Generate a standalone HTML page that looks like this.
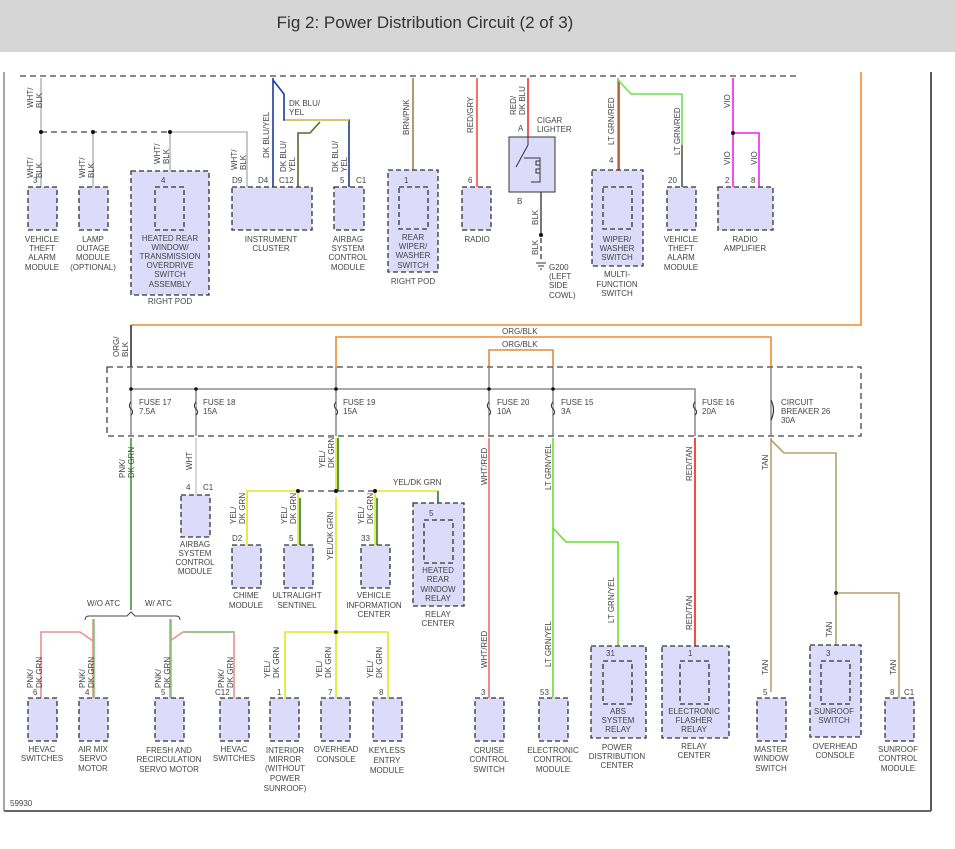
<!DOCTYPE html>
<html><head><meta charset="utf-8"><style>
body{margin:0;background:#fff;width:955px;height:849px;overflow:hidden}
svg{display:block}
text{font-family:"Liberation Sans",sans-serif;font-size:8px;fill:#444}
.m{text-anchor:middle}
.b{fill:#dcdcfa;stroke:#333;stroke-width:1.3;stroke-dasharray:5,3}
.w{fill:none;stroke-width:1.6}
.d{fill:none;stroke:#444;stroke-width:1.3;stroke-dasharray:6,4}
</style></head><body>
<svg width="955" height="849" viewBox="0 0 955 849">
<rect x="0" y="0" width="955" height="52" fill="#d6d6d6"/>
<text x="425" y="28" class="m" style="font-size:17px;fill:#333">Fig 2: Power Distribution Circuit (2 of 3)</text>
<line x1="4" y1="72" x2="4" y2="811" stroke="#888" stroke-width="1.5"/>
<line x1="931" y1="72" x2="931" y2="811" stroke="#222" stroke-width="1.5"/>
<line x1="4" y1="811" x2="931" y2="811" stroke="#666" stroke-width="2"/>
<text x="10" y="806">59930</text>

<!-- top dashed bus -->
<line x1="20" y1="76" x2="798" y2="76" class="d"/>
<!-- orange feed -->
<path class="w" stroke="#f08a30" d="M861 72 V325 H131"/>
<path class="w" stroke="#333" d="M131 325 V367"/>
<text transform="translate(119,357) rotate(-90)"><tspan x="0">ORG/</tspan><tspan x="0" dy="9">BLK</tspan></text>
<path class="w" stroke="#f08a30" d="M336 367 V337 H771 V367"/>
<path class="w" stroke="#e08a40" d="M489 367 V350 H553 V367"/>
<text x="502" y="334">ORG/BLK</text>
<text x="502" y="347">ORG/BLK</text>

<!-- TOP WIRES -->
<path class="w" stroke="#bbb" d="M41 78 V187 M93 132 V187 M170 132 V187 M170 132 H247 V187"/>
<line x1="41" y1="132" x2="170" y2="132" class="d"/>
<circle cx="41" cy="132" r="2" fill="#111"/><circle cx="93" cy="132" r="2" fill="#111"/><circle cx="170" cy="132" r="2" fill="#111"/>
<text transform="translate(33,108) rotate(-90)"><tspan x="0">WHT/</tspan><tspan x="0" dy="9">BLK</tspan></text>
<text transform="translate(33,178) rotate(-90)"><tspan x="0">WHT/</tspan><tspan x="0" dy="9">BLK</tspan></text>
<text transform="translate(85,178) rotate(-90)"><tspan x="0">WHT/</tspan><tspan x="0" dy="9">BLK</tspan></text>
<text transform="translate(160,164) rotate(-90)"><tspan x="0">WHT/</tspan><tspan x="0" dy="9">BLK</tspan></text>
<text transform="translate(237,170) rotate(-90)"><tspan x="0">WHT/</tspan><tspan x="0" dy="9">BLK</tspan></text>

<path class="w" stroke="#1a3a9a" d="M273 78 V187"/>
<path class="w" stroke="#1a3a9a" d="M273 80 L284 94 V120 H349 V187"/>
<path class="w" stroke="#e8d84a" stroke-width="0.8" fill="none" d="M285 120 H349"/>
<path class="w" stroke="#556b2f" d="M298 187 V133 H310 L320 122"/>
<text transform="translate(269,158) rotate(-90)">DK BLU/YEL</text>
<text x="289" y="106">DK BLU/</text><text x="289" y="115">YEL</text>
<text transform="translate(286,172) rotate(-90)"><tspan x="0">DK BLU/</tspan><tspan x="0" dy="9">YEL</tspan></text>
<text transform="translate(338,172) rotate(-90)"><tspan x="0">DK BLU/</tspan><tspan x="0" dy="9">YEL</tspan></text>

<path class="w" stroke="#a08050" d="M413 78 V187"/>
<text transform="translate(409,135) rotate(-90)">BRN/PNK</text>
<path class="w" stroke="#f05050" d="M477 78 V187"/>
<text transform="translate(473,133) rotate(-90)">RED/GRY</text>
<path class="w" stroke="#f03030" d="M528 78 V137"/>
<text transform="translate(516,115) rotate(-90)"><tspan x="0">RED/</tspan><tspan x="0" dy="9">DK BLU</tspan></text>
<text x="537" y="123">CIGAR</text><text x="537" y="132">LIGHTER</text>
<text x="518" y="131">A</text>
<rect x="509" y="137" width="46" height="55" fill="#dcdcfa" stroke="#333" stroke-width="1"/>
<path d="M516 167 L528 145 M528 137 V145 M524 158 H540 V182 H531" stroke="#333" fill="none" stroke-width="1"/>
<path d="M540 158 v3 h-4 v4 h4 v4 h-4 v4 h4" stroke="#333" fill="none"/>
<text x="517" y="204">B</text>
<path class="w" stroke="#555" d="M541 192 V235"/>
<path d="M541 238 V260" stroke="#555" stroke-dasharray="5,3" stroke-width="1.5"/>
<circle cx="541" cy="235" r="2" fill="#111"/>
<text transform="translate(538,225) rotate(-90)">BLK</text>
<text transform="translate(538,255) rotate(-90)">BLK</text>
<path d="M536 263 H546 M538 266 H544 M540 269 H542" stroke="#333"/>
<text x="549" y="270">G200</text><text x="549" y="279">(LEFT</text><text x="549" y="288">SIDE</text><text x="549" y="298">COWL)</text>

<path class="w" stroke="#5ad43a" d="M618 78 V187"/>
<path class="w" stroke="#c84030" stroke-width="0.8" d="M619 80 V187"/>
<path class="w" stroke="#6de34a" d="M618 80 L631 94 H682 V145"/>
<path class="w" stroke="#555" d="M682 145 V187"/>
<text transform="translate(614,145) rotate(-90)">LT GRN/RED</text>
<text transform="translate(680,155) rotate(-90)">LT GRN/RED</text>
<path class="w" stroke="#ee22ee" d="M733 78 V187 M733 133 H759 V187"/>
<circle cx="733" cy="133" r="2" fill="#111"/>
<text transform="translate(730,108) rotate(-90)">VIO</text>
<text transform="translate(730,165) rotate(-90)">VIO</text>
<text transform="translate(757,165) rotate(-90)">VIO</text>

<!-- top modules -->
<rect class="b" x="28" y="187" width="29" height="43"/>
<rect class="b" x="79" y="187" width="29" height="43"/>
<rect class="b" x="131" y="171" width="78" height="124"/>
<rect class="b" x="155" y="187" width="29" height="43"/>
<rect class="b" x="232" y="187" width="80" height="43"/>
<rect class="b" x="334" y="187" width="30" height="43"/>
<rect class="b" x="388" y="170" width="50" height="102"/>
<rect class="b" x="399" y="187" width="29" height="42"/>
<rect class="b" x="462" y="187" width="29" height="43"/>
<rect class="b" x="592" y="170" width="51" height="96"/>
<rect class="b" x="603" y="187" width="29" height="42"/>
<rect class="b" x="667" y="187" width="29" height="43"/>
<rect class="b" x="718" y="187" width="55" height="43"/>
<text x="33" y="183">3</text><text x="161" y="183">4</text><text x="232" y="183">D9</text><text x="258" y="183">D4</text><text x="279" y="183">C12</text>
<text x="340" y="183">5</text><text x="356" y="183">C1</text><text x="404" y="183">1</text><text x="468" y="183">6</text>
<text x="609" y="163">4</text><text x="668" y="183">20</text><text x="725" y="183">2</text><text x="751" y="183">8</text>
<g class="m">
<text x="42" y="242" class="m">VEHICLE</text><text x="42" y="251" class="m">THEFT</text><text x="42" y="260" class="m">ALARM</text><text x="42" y="270" class="m">MODULE</text>
<text x="93" y="242" class="m">LAMP</text><text x="93" y="251" class="m">OUTAGE</text><text x="93" y="260" class="m">MODULE</text><text x="93" y="270" class="m">(OPTIONAL)</text>
<text x="170" y="241" class="m">HEATED REAR</text><text x="170" y="250" class="m">WINDOW/</text><text x="170" y="259" class="m">TRANSMISSION</text><text x="170" y="268" class="m">OVERDRIVE</text><text x="170" y="277" class="m">SWITCH</text><text x="170" y="287" class="m">ASSEMBLY</text>
<text x="170" y="304" class="m">RIGHT POD</text>
<text x="271" y="242" class="m">INSTRUMENT</text><text x="271" y="251" class="m">CLUSTER</text>
<text x="348" y="242" class="m">AIRBAG</text><text x="348" y="251" class="m">SYSTEM</text><text x="348" y="260" class="m">CONTROL</text><text x="348" y="270" class="m">MODULE</text>
<text x="413" y="240" class="m">REAR</text><text x="413" y="249" class="m">WIPER/</text><text x="413" y="258" class="m">WASHER</text><text x="413" y="268" class="m">SWITCH</text>
<text x="413" y="284" class="m">RIGHT POD</text>
<text x="477" y="242" class="m">RADIO</text>
<text x="617" y="242" class="m">WIPER/</text><text x="617" y="251" class="m">WASHER</text><text x="617" y="260" class="m">SWITCH</text>
<text x="617" y="277" class="m">MULTI-</text><text x="617" y="287" class="m">FUNCTION</text><text x="617" y="296" class="m">SWITCH</text>
<text x="681" y="242" class="m">VEHICLE</text><text x="681" y="251" class="m">THEFT</text><text x="681" y="260" class="m">ALARM</text><text x="681" y="270" class="m">MODULE</text>
<text x="745" y="242" class="m">RADIO</text><text x="745" y="251" class="m">AMPLIFIER</text>
</g>

<!-- FUSE BOX -->
<rect x="107" y="367" width="754" height="69" fill="none" stroke="#444" stroke-width="1.3" stroke-dasharray="6,4"/>
<path stroke="#777" stroke-width="1.3" fill="none" d="M131 389 H695 V400 M131 367 V436 M196 389 V436 M336 367 V436 M489 367 V436 M553 367 V436 M695 400 V436 M771 367 V436"/>
<g fill="#fff" stroke="#333" stroke-width="1.2">
<path d="M131 402 q-3 4 0 7 q3 3 0 6"/><path d="M196 402 q-3 4 0 7 q3 3 0 6"/><path d="M336 402 q-3 4 0 7 q3 3 0 6"/>
<path d="M489 402 q-3 4 0 7 q3 3 0 6"/><path d="M553 402 q-3 4 0 7 q3 3 0 6"/><path d="M695 402 q-3 4 0 7 q3 3 0 6"/>
<path d="M771 400 q5 10 0 20" fill="none"/>
</g>
<g fill="#111"><circle cx="131" cy="389" r="1.8"/><circle cx="196" cy="389" r="1.8"/><circle cx="336" cy="389" r="1.8"/><circle cx="489" cy="389" r="1.8"/><circle cx="553" cy="389" r="1.8"/></g>
<text x="139" y="405">FUSE 17</text><text x="139" y="414">7.5A</text>
<text x="203" y="405">FUSE 18</text><text x="203" y="414">15A</text>
<text x="343" y="405">FUSE 19</text><text x="343" y="414">15A</text>
<text x="497" y="405">FUSE 20</text><text x="497" y="414">10A</text>
<text x="561" y="405">FUSE 15</text><text x="561" y="414">3A</text>
<text x="702" y="405">FUSE 16</text><text x="702" y="414">20A</text>
<text x="781" y="405">CIRCUIT</text><text x="781" y="414">BREAKER 26</text><text x="781" y="423">30A</text>

<!-- FUSE 17 -->
<path class="w" stroke="#3a9a3a" d="M131 438 V610"/>
<text transform="translate(125,478) rotate(-90)"><tspan x="0">PNK/</tspan><tspan x="0" dy="9">DK GRN</tspan></text>
<path d="M85 620 q0 -4 4 -4 H127 l4 -4 l4 4 H176 q4 0 4 4" fill="none" stroke="#444"/>
<text x="87" y="606">W/O ATC</text><text x="145" y="606">W/ ATC</text>
<path class="w" stroke="#e89090" d="M93 619 V698 M41 698 V632 H80 L93 641 M170 619 V698 M234 698 V632 H183 L170 641"/>
<path class="w" stroke="#7ac87a" stroke-width="0.7" d="M94 619 V698 M171 619 V698 M183 632 H234"/>
<!-- FUSE 18 -->
<path class="w" stroke="#ccc" d="M196 438 V495"/>
<text transform="translate(192,470) rotate(-90)">WHT</text>
<!-- FUSE 19 -->
<path class="w" stroke="#dde820" d="M336 438 V491 M336 497 V632 M247 545 V491 H298 M298 545 V491 M375 545 V491 M375 491 H438 M285 698 V632 H388 V698 M336 632 V698"/>
<path class="w" stroke="#2a7a2a" stroke-width="0.7" d="M338 438 V491 M300 498 V545 M377 498 V545 M438 491 V515"/>
<line x1="298" y1="491" x2="375" y2="491" class="d"/>
<g fill="#111"><circle cx="298" cy="491" r="2"/><circle cx="336" cy="491" r="2"/><circle cx="375" cy="491" r="2"/><circle cx="336" cy="632" r="2"/></g>
<text transform="translate(325,468) rotate(-90)"><tspan x="0">YEL/</tspan><tspan x="0" dy="9">DK GRN</tspan></text>
<text x="393" y="485">YEL/DK GRN</text>
<text transform="translate(236,524) rotate(-90)"><tspan x="0">YEL/</tspan><tspan x="0" dy="9">DK GRN</tspan></text>
<text transform="translate(287,524) rotate(-90)"><tspan x="0">YEL/</tspan><tspan x="0" dy="9">DK GRN</tspan></text>
<text transform="translate(364,524) rotate(-90)"><tspan x="0">YEL/</tspan><tspan x="0" dy="9">DK GRN</tspan></text>
<text transform="translate(333,560) rotate(-90)">YEL/DK GRN</text>
<text transform="translate(270,678) rotate(-90)"><tspan x="0">YEL/</tspan><tspan x="0" dy="9">DK GRN</tspan></text>
<text transform="translate(322,678) rotate(-90)"><tspan x="0">YEL/</tspan><tspan x="0" dy="9">DK GRN</tspan></text>
<text transform="translate(373,678) rotate(-90)"><tspan x="0">YEL/</tspan><tspan x="0" dy="9">DK GRN</tspan></text>
<!-- FUSE 20 -->
<path class="w" stroke="#f07070" d="M489 438 V698"/>
<text transform="translate(487,485) rotate(-90)">WHT/RED</text>
<text transform="translate(487,668) rotate(-90)">WHT/RED</text>
<!-- FUSE 15 -->
<path class="w" stroke="#66e030" d="M553 438 V698 M553 528 L566 542 H618 V657"/>
<text transform="translate(551,490) rotate(-90)">LT GRN/YEL</text>
<text transform="translate(551,667) rotate(-90)">LT GRN/YEL</text>
<text transform="translate(614,623) rotate(-90)">LT GRN/YEL</text>
<!-- FUSE 16 -->
<path class="w" stroke="#ee2020" d="M695 438 V657"/>
<text transform="translate(692,481) rotate(-90)">RED/TAN</text>
<text transform="translate(692,630) rotate(-90)">RED/TAN</text>
<!-- CB 26 -->
<path class="w" stroke="#b8a070" d="M771 438 V692 M771 440 L784 453 H836 V661 M836 593 H899 V698"/>
<circle cx="836" cy="593" r="2" fill="#111"/>
<text transform="translate(768,470) rotate(-90)">TAN</text>
<text transform="translate(768,675) rotate(-90)">TAN</text>
<text transform="translate(832,637) rotate(-90)">TAN</text>
<text transform="translate(896,675) rotate(-90)">TAN</text>

<!-- bottom / middle modules -->
<rect class="b" x="181" y="495" width="29" height="42"/>
<text x="186" y="490">4</text><text x="203" y="490">C1</text>
<rect class="b" x="232" y="545" width="29" height="43"/>
<rect class="b" x="284" y="545" width="29" height="43"/>
<rect class="b" x="361" y="545" width="29" height="43"/>
<rect class="b" x="413" y="503" width="51" height="103"/>
<rect class="b" x="424" y="520" width="29" height="43"/>
<text x="232" y="541">D2</text><text x="289" y="541">5</text><text x="361" y="541">33</text><text x="429" y="516">5</text>
<text x="195" y="547" class="m">AIRBAG</text><text x="195" y="556" class="m">SYSTEM</text><text x="195" y="565" class="m">CONTROL</text><text x="195" y="574" class="m">MODULE</text>
<text x="246" y="598" class="m">CHIME</text><text x="246" y="608" class="m">MODULE</text>
<text x="297" y="598" class="m">ULTRALIGHT</text><text x="297" y="608" class="m">SENTINEL</text>
<text x="374" y="598" class="m">VEHICLE</text><text x="374" y="608" class="m">INFORMATION</text><text x="374" y="617" class="m">CENTER</text>
<text x="438" y="573" class="m">HEATED</text><text x="438" y="582" class="m">REAR</text><text x="438" y="592" class="m">WINDOW</text><text x="438" y="601" class="m">RELAY</text>
<text x="438" y="617" class="m">RELAY</text><text x="438" y="626" class="m">CENTER</text>

<rect class="b" x="28" y="698" width="29" height="43"/>
<rect class="b" x="79" y="698" width="29" height="43"/>
<rect class="b" x="155" y="698" width="29" height="43"/>
<rect class="b" x="220" y="698" width="29" height="43"/>
<rect class="b" x="270" y="698" width="29" height="43"/>
<rect class="b" x="321" y="698" width="29" height="43"/>
<rect class="b" x="373" y="698" width="29" height="43"/>
<rect class="b" x="475" y="698" width="29" height="43"/>
<rect class="b" x="539" y="698" width="29" height="43"/>
<rect class="b" x="591" y="646" width="55" height="92"/>
<rect class="b" x="603" y="661" width="29" height="43"/>
<rect class="b" x="662" y="646" width="67" height="92"/>
<rect class="b" x="680" y="661" width="29" height="43"/>
<rect class="b" x="757" y="698" width="29" height="43"/>
<rect class="b" x="810" y="645" width="51" height="92"/>
<rect class="b" x="821" y="661" width="29" height="43"/>
<rect class="b" x="885" y="698" width="29" height="43"/>
<text transform="translate(33,688) rotate(-90)"><tspan x="0">PNK/</tspan><tspan x="0" dy="9">DK GRN</tspan></text>
<text transform="translate(85,688) rotate(-90)"><tspan x="0">PNK/</tspan><tspan x="0" dy="9">DK GRN</tspan></text>
<text transform="translate(161,688) rotate(-90)"><tspan x="0">PNK/</tspan><tspan x="0" dy="9">DK GRN</tspan></text>
<text transform="translate(224,688) rotate(-90)"><tspan x="0">PNK/</tspan><tspan x="0" dy="9">DK GRN</tspan></text>
<text x="33" y="695">6</text><text x="85" y="695">4</text><text x="161" y="695">5</text><text x="215" y="695">C12</text>
<text x="277" y="695">1</text><text x="328" y="695">7</text><text x="379" y="695">8</text><text x="481" y="695">3</text><text x="540" y="695">53</text>
<text x="606" y="656">31</text><text x="688" y="656">1</text><text x="763" y="695">5</text><text x="826" y="656">3</text><text x="890" y="695">8</text><text x="904" y="695">C1</text>
<g>
<text x="42" y="752" class="m">HEVAC</text><text x="42" y="761" class="m">SWITCHES</text>
<text x="93" y="752" class="m">AIR MIX</text><text x="93" y="761" class="m">SERVO</text><text x="93" y="771" class="m">MOTOR</text>
<text x="169" y="753" class="m">FRESH AND</text><text x="169" y="762" class="m">RECIRCULATION</text><text x="169" y="772" class="m">SERVO MOTOR</text>
<text x="234" y="752" class="m">HEVAC</text><text x="234" y="761" class="m">SWITCHES</text>
<text x="285" y="753" class="m">INTERIOR</text><text x="285" y="762" class="m">MIRROR</text><text x="285" y="771" class="m">(WITHOUT</text><text x="285" y="781" class="m">POWER</text><text x="285" y="791" class="m">SUNROOF)</text>
<text x="336" y="752" class="m">OVERHEAD</text><text x="336" y="762" class="m">CONSOLE</text>
<text x="387" y="753" class="m">KEYLESS</text><text x="387" y="763" class="m">ENTRY</text><text x="387" y="773" class="m">MODULE</text>
<text x="489" y="753" class="m">CRUISE</text><text x="489" y="762" class="m">CONTROL</text><text x="489" y="772" class="m">SWITCH</text>
<text x="553" y="753" class="m">ELECTRONIC</text><text x="553" y="762" class="m">CONTROL</text><text x="553" y="772" class="m">MODULE</text>
<text x="618" y="714" class="m">ABS</text><text x="618" y="723" class="m">SYSTEM</text><text x="618" y="732" class="m">RELAY</text>
<text x="617" y="750" class="m">POWER</text><text x="617" y="759" class="m">DISTRIBUTION</text><text x="617" y="768" class="m">CENTER</text>
<text x="694" y="714" class="m">ELECTRONIC</text><text x="694" y="723" class="m">FLASHER</text><text x="694" y="732" class="m">RELAY</text>
<text x="694" y="749" class="m">RELAY</text><text x="694" y="758" class="m">CENTER</text>
<text x="771" y="752" class="m">MASTER</text><text x="771" y="761" class="m">WINDOW</text><text x="771" y="771" class="m">SWITCH</text>
<text x="834" y="714" class="m">SUNROOF</text><text x="834" y="723" class="m">SWITCH</text>
<text x="835" y="749" class="m">OVERHEAD</text><text x="835" y="758" class="m">CONSOLE</text>
<text x="898" y="752" class="m">SUNROOF</text><text x="898" y="761" class="m">CONTROL</text><text x="898" y="771" class="m">MODULE</text>
</g>
</svg>
</body></html>
